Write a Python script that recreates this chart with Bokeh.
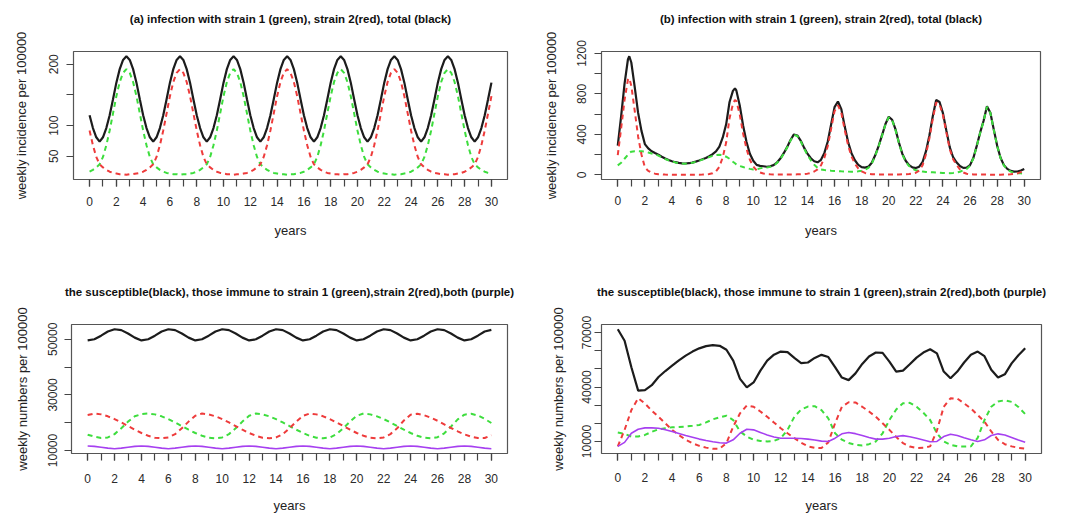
from bokeh.plotting import figure
from bokeh.layouts import row, column
from bokeh.models import FixedTicker, Range1d, NumeralTickFormatter, LinearAxis
from bokeh.embed import file_html
from bokeh.resources import INLINE

FONT = "Liberation Sans"
BLACK = "#1c1c1c"
GREEN = "#3ddd3d"
RED = "#ee3b3b"
PURPLE = "#a640f0"

# ---------------- data ----------------
# (a) quarterly samples, years 0..30
years_a = [i * 0.25 for i in range(121)]
total_a = [117, 96, 81, 74, 81, 96, 117, 143, 170, 192, 207,
           213, 207, 192, 170, 143, 117, 96, 81, 74, 81, 96, 117, 143, 170, 192, 207,
           213, 207, 192, 170, 143, 117, 96, 81, 74, 81, 96, 117, 143, 170, 192, 207,
           213, 207, 192, 170, 143, 117, 96, 81, 74, 81, 96, 117, 143, 170, 192, 207,
           213, 207, 192, 170, 143, 117, 96, 81, 74, 81, 96, 117, 143, 170, 192, 207,
           213, 207, 192, 170, 143, 117, 96, 81, 74, 81, 96, 117, 143, 170, 192, 207,
           213, 207, 192, 170, 143, 117, 96, 81, 74, 81, 96, 117, 143, 170, 192, 207,
           213, 207, 192, 170, 143, 117, 96, 81, 74, 81, 96, 117, 143, 170]
strain1_a = [25, 28, 32, 37, 49, 68, 92, 120, 148, 171, 186,
             192, 186, 171, 148, 120, 92, 68, 49, 37, 32, 28, 25, 23, 22, 21, 21,
             20, 21, 21, 22, 23, 25, 28, 32, 37, 49, 68, 92, 120, 148, 171, 186,
             192, 186, 171, 148, 120, 92, 68, 49, 37, 32, 28, 25, 23, 22, 21, 21,
             20, 21, 21, 22, 23, 25, 28, 32, 37, 49, 68, 92, 120, 148, 171, 186,
             192, 186, 171, 148, 120, 92, 68, 49, 37, 32, 28, 25, 23, 22, 21, 21,
             20, 21, 21, 22, 23, 25, 28, 32, 37, 49, 68, 92, 120, 148, 171, 186,
             192, 186, 171, 148, 120, 92, 68, 49, 37, 32, 28, 25, 23, 22]
strain2_a = [92, 68, 49, 37, 32, 28, 25, 23, 22, 21, 21,
             20, 21, 21, 22, 23, 25, 28, 32, 37, 49, 68, 92, 120, 148, 171, 186,
             192, 186, 171, 148, 120, 92, 68, 49, 37, 32, 28, 25, 23, 22, 21, 21,
             20, 21, 21, 22, 23, 25, 28, 32, 37, 49, 68, 92, 120, 148, 171, 186,
             192, 186, 171, 148, 120, 92, 68, 49, 37, 32, 28, 25, 23, 22, 21, 21,
             20, 21, 21, 22, 23, 25, 28, 32, 37, 49, 68, 92, 120, 148, 171, 186,
             192, 186, 171, 148, 120, 92, 68, 49, 37, 32, 28, 25, 23, 22, 21, 21,
             20, 21, 21, 22, 23, 25, 28, 32, 37, 49, 68, 92, 120, 148]

# (b) quarterly samples plus the two sharp peaks
years_b = sorted([i * 0.25 for i in range(121)] + [0.85, 8.65])
total_b = [290, 580, 900, 1140, 1172, 1110, 870, 615, 435, 305, 262, 234, 216,
           200, 180, 162, 147, 135, 126, 119, 115, 113, 116, 122, 132,
           143, 155, 168, 185, 205, 232, 280, 370, 500, 720, 830, 855, 835,
           688, 488, 328, 210, 140, 100, 90, 86, 81, 86, 97, 123,
           162, 215, 275, 345, 400, 390, 340, 270, 210, 165, 135, 125,
           150, 218, 330, 500, 670, 725, 650, 480, 325, 215, 145, 100,
           77, 72, 82, 120, 194, 285, 390, 500, 575, 545, 450, 320,
           210, 140, 97, 75, 68, 82, 130, 235, 390, 580, 740, 720,
           610, 440, 275, 175, 125, 88, 70, 72, 97, 170, 290, 420,
           535, 678, 615, 450, 290, 170, 97, 60, 40, 33, 34, 44, 60]
strain1_b = [95, 120, 160, 200, 217, 230, 234, 235, 233, 230, 222, 212, 203,
             192, 174, 158, 144, 133, 124, 117, 113, 111, 114, 120, 129,
             140, 151, 162, 176, 189, 197, 200, 195, 180, 160, 130, 115, 105,
             88, 78, 68, 60, 55, 55, 65, 72, 73, 80, 92, 118,
             157, 210, 270, 340, 395, 384, 333, 261, 197, 145, 101, 70,
             55, 48, 45, 42, 40, 38, 36, 35, 33, 32, 33, 36,
             42, 52, 70, 112, 188, 280, 385, 495, 570, 540, 445, 315,
             204, 133, 88, 62, 46, 38, 33, 30, 28, 26, 24, 22,
             20, 19, 18, 20, 24, 32, 45, 60, 90, 165, 286, 416,
             531, 674, 612, 447, 287, 167, 93, 55, 33, 23, 18, 16, 15]
strain2_b = [195, 460, 740, 940, 955, 880, 636, 380, 202, 75, 40, 22, 13,
             8, 6, 4, 3, 2, 2, 2, 2, 2, 2, 2, 3,
             3, 4, 6, 9, 16, 35, 80, 175, 320, 560, 700, 740, 730,
             600, 410, 260, 150, 85, 45, 25, 14, 8, 6, 5, 5,
             5, 5, 5, 5, 5, 6, 7, 9, 13, 20, 34, 55,
             95, 170, 285, 458, 630, 687, 614, 445, 292, 183, 112, 64,
             35, 20, 12, 8, 6, 5, 5, 5, 5, 5, 5, 5,
             6, 7, 9, 13, 22, 44, 97, 205, 362, 554, 716, 698,
             590, 421, 257, 155, 101, 56, 25, 12, 7, 5, 4, 4,
             4, 4, 3, 3, 3, 3, 4, 5, 7, 10, 16, 28, 45]

# (c) half-year samples
years_c = [i * 0.5 for i in range(61)]
susc_c = [49600, 50000, 51300, 52800, 53600, 53300, 52100, 50600,
          49600, 50000, 51300, 52800, 53600, 53300, 52100, 50600,
          49600, 50000, 51300, 52800, 53600, 53300, 52100, 50600,
          49600, 50000, 51300, 52800, 53600, 53300, 52100, 50600,
          49600, 50000, 51300, 52800, 53600, 53300, 52100, 50600,
          49600, 50000, 51300, 52800, 53600, 53300, 52100, 50600,
          49600, 50000, 51300, 52800, 53600, 53300, 52100, 50600,
          49600, 50000, 51300, 52800, 53400]
imm1_c = [15700, 15000, 14500, 14700, 15900, 18000, 20400, 22300, 23100, 23300,
          23000, 22300, 21300, 20100, 18800, 17500, 16300, 15300, 14600, 14400,
          14700, 15900, 18000, 20400, 22500, 23300, 23000, 22300, 21300, 20100,
          18800, 17500, 16300, 15300, 14600, 14400, 14700, 15900, 18000, 20400,
          22500, 23300, 23000, 22300, 21300, 20100, 18800, 17500, 16300, 15300,
          14600, 14400, 14800, 16200, 18600, 21200, 22900, 23200, 22600, 21400,
          19900]
imm2_c = [22800, 23300, 23000, 22300, 21300, 20100, 18800, 17500, 16300, 15300,
          14600, 14400, 14700, 15900, 18000, 20400, 22500, 23300, 23000, 22300,
          21300, 20100, 18800, 17500, 16300, 15300, 14600, 14400, 14700, 15900,
          18000, 20400, 22500, 23300, 23000, 22300, 21300, 20100, 18800, 17500,
          16300, 15300, 14600, 14400, 14700, 15900, 18000, 20800, 22900, 23200,
          22700, 21800, 20700, 19400, 18100, 16900, 15800, 15000, 14500, 14500,
          15500]
both_c = [11650, 11500, 11200, 10850, 10650, 10850, 11200, 11500,
          11650, 11500, 11200, 10850, 10650, 10850, 11200, 11500,
          11650, 11500, 11200, 10850, 10650, 10850, 11200, 11500,
          11650, 11500, 11200, 10850, 10650, 10850, 11200, 11500,
          11650, 11500, 11200, 10850, 10650, 10850, 11200, 11500,
          11650, 11500, 11200, 10850, 10650, 10850, 11200, 11500,
          11650, 11500, 11200, 10850, 10650, 10850, 11200, 11500,
          11650, 11500, 11200, 10850, 10650]

# (d) half-year samples
years_d = [i * 0.5 for i in range(61)]
susc_d = [71800, 65500, 50900, 38000, 38300, 41000, 45500, 48800, 51800, 54700,
          57300, 59500, 61300, 62500, 63100, 62700, 60500, 54500, 44500, 39800,
          42500, 49000, 54500, 57800, 59500, 59200, 56000, 53200, 53500, 56000,
          57700, 56500, 51000, 45200, 43800, 47500, 52700, 56800, 59000, 58800,
          54000, 48500, 49000, 52500, 56200, 59000, 60800, 58500, 48500, 44800,
          48500, 53500, 57800, 59500, 57000, 49500, 45200, 47000, 53000, 57500,
          61300]
imm1_d = [14900, 14200, 12700, 12700, 13600, 15300, 16700, 17300, 17800, 18000,
          18200, 18600, 19100, 20500, 22200, 23300, 24200, 21800, 15500, 12700,
          10900, 10300, 10000, 10300, 11800, 16400, 23600, 27600, 29200, 29400,
          27300, 22700, 14500, 11000, 9100, 8200, 7800, 8500, 10000, 14500,
          21800, 27600, 31000, 31300, 29100, 25800, 21800, 14500, 10000, 8200,
          7300, 7200, 7300, 12000, 21800, 29100, 32000, 32700, 31800, 29000,
          25100]
imm2_d = [7300, 16400, 27300, 33800, 30900, 27000, 23600, 20000, 16400, 13500,
          10900, 9000, 7600, 6600, 6000, 6000, 9100, 18200, 25500, 29800,
          29100, 26500, 23600, 20400, 17300, 14500, 11800, 9300, 7300, 6500,
          6400, 9500, 20000, 29100, 31600, 31500, 29100, 26500, 23600, 20000,
          16400, 12500, 9100, 7200, 6400, 6500, 7300, 16000, 29100, 33800,
          33600, 31000, 28200, 24500, 20900, 15500, 10900, 8500, 7300, 6500,
          6000]
both_d = [7300, 9500, 14500, 16700, 17500, 17500, 17300, 16500, 15500, 14400,
          13300, 12300, 11300, 10500, 9800, 9300, 9100, 10900, 14500, 16700,
          16400, 15000, 13600, 12500, 11800, 11800, 11800, 11600, 11300, 10800,
          10200, 10000, 11800, 14200, 14900, 14300, 13300, 12200, 11300, 11300,
          11800, 12700, 13200, 12600, 11800, 10800, 9800, 10000, 12700, 14000,
          13300, 12000, 10900, 10000, 10900, 13300, 14200, 13600, 12200, 10800,
          9600]

x_ticks = list(range(0, 31, 2))
x_minor = list(range(0, 31))
yticks_a = [50, 100, 150, 200]
ylabels_a = ["50", "100", "", "200"]
yticks_b = [0, 200, 400, 600, 800, 1000, 1200]
ylabels_b = ["0", "", "400", "", "800", "", "1200"]
yticks_c = [10000, 20000, 30000, 40000, 50000]
ylabels_c = ["10000", "", "30000", "", "50000"]
yticks_d = [10000, 20000, 30000, 40000, 50000, 60000, 70000]
ylabels_d = ["10000", "", "", "40000", "", "", "70000"]

TITLE_AB = "infection with strain 1 (green), strain 2(red), total (black)"
TITLE_CD = "the susceptible(black), those immune to strain 1 (green),strain 2(red),both (purple)"

X_LO, X_HI = -1.2, 31.2


def make_panel(title, w, h, bl, br, bt, bb, ytitle, yticks, ylabels, xs, series,
               title_standoff, xlab_standoff, xtitle_standoff, ylab_standoff, ytitle_standoff):
    allv = [v for s in series for v in s[0]]
    for s in series:
        assert len(s[0]) == len(xs), (title, len(s[0]), len(xs))
    lo, hi = min(allv), max(allv)
    pad = 0.04 * (hi - lo)
    p = figure(width=w, height=h, output_backend="svg", toolbar_location=None,
               x_range=Range1d(X_LO, X_HI), y_range=Range1d(lo - pad, hi + pad),
               min_border_left=bl, min_border_right=br, min_border_top=bt, min_border_bottom=bb)
    p.grid.visible = False
    p.outline_line_color = "#555555"
    p.outline_line_width = 1.2
    p.background_fill_color = "white"
    p.border_fill_color = "white"

    # chart title as the label of a bare axis above the plot box
    top = LinearAxis(ticker=FixedTicker(ticks=[]), axis_label=title,
                     axis_line_color=None, major_tick_line_color=None, minor_tick_line_color=None,
                     major_tick_in=0, major_tick_out=0, minor_tick_in=0, minor_tick_out=0,
                     major_label_standoff=0, axis_label_standoff=title_standoff,
                     axis_label_text_font=FONT, axis_label_text_font_style="bold",
                     axis_label_text_font_size="11.5px", axis_label_text_color="#111111")
    p.add_layout(top, "above")

    xa = p.below[0]
    ya = p.left[0]
    for ax in (xa, ya):
        ax.axis_line_color = None
        ax.major_tick_in = 0
        ax.major_tick_out = 7
        ax.minor_tick_in = 0
        ax.minor_tick_out = 7
        ax.major_tick_line_color = "#444444"
        ax.minor_tick_line_color = "#444444"
        ax.major_tick_line_width = 1.2
        ax.minor_tick_line_width = 1.2
        ax.major_label_text_font = FONT
        ax.major_label_text_font_size = "12px"
        ax.major_label_text_color = "#2a2a2a"
        ax.axis_label_text_font = FONT
        ax.axis_label_text_font_size = "13px"
        ax.axis_label_text_font_style = "normal"
        ax.axis_label_text_color = "#222222"

    xa.ticker = FixedTicker(ticks=x_ticks, minor_ticks=x_minor)
    xa.major_label_standoff = xlab_standoff
    xa.axis_label = "years"
    xa.axis_label_standoff = xtitle_standoff

    ya.ticker = FixedTicker(ticks=yticks, minor_ticks=[])
    ya.formatter = NumeralTickFormatter(format="0")
    ya.major_label_overrides = {t: lab for t, lab in zip(yticks, ylabels)}
    ya.major_label_orientation = "vertical"
    ya.major_label_standoff = ylab_standoff
    ya.axis_label = ytitle
    ya.axis_label_standoff = ytitle_standoff

    for ys, color, width, dash in series:
        p.line(xs, ys, line_color=color, line_width=width, line_dash=dash)
    return p


pa = make_panel("(a) " + TITLE_AB, 537, 262, 73, 30, 51, 80,
                "weekly incidence per 100000", yticks_a, ylabels_a, years_a,
                [(total_a, BLACK, 2.2, "solid"), (strain1_a, GREEN, 2, "5 4"), (strain2_a, RED, 2, "5 4")],
                27, 10, 14, 8, 18)
pb = make_panel("(b) " + TITLE_AB, 540, 262, 64, 37, 48, 83,
                "weekly incidence per 100000", yticks_b, ylabels_b, years_b,
                [(total_b, BLACK, 2.2, "solid"), (strain1_b, GREEN, 2, "5 4"), (strain2_b, RED, 2, "5 4")],
                27, 9, 15, 8, 16)
pc = make_panel(TITLE_CD, 537, 255, 71, 30, 62, 64,
                "weekly numbers per 100000", yticks_c, ylabels_c, years_c,
                [(susc_c, BLACK, 2.2, "solid"), (imm1_c, GREEN, 2, "5 4"), (imm2_c, RED, 2, "5 4"),
                 (both_c, PURPLE, 1.6, "solid")],
                27, 13, 12, 7, 16)
pd_ = make_panel(TITLE_CD, 540, 255, 64, 36, 61, 63,
                 "weekly numbers per 100000", yticks_d, ylabels_d, years_d,
                 [(susc_d, BLACK, 2.2, "solid"), (imm1_d, GREEN, 2, "5 4"), (imm2_d, RED, 2, "5 4"),
                  (both_d, PURPLE, 1.6, "solid")],
                 27, 12, 13, 3, 14)

layout = column(row(pa, pb), row(pc, pd_))
open("out.html", "w").write(file_html(layout, INLINE, title="strain dynamics"))
